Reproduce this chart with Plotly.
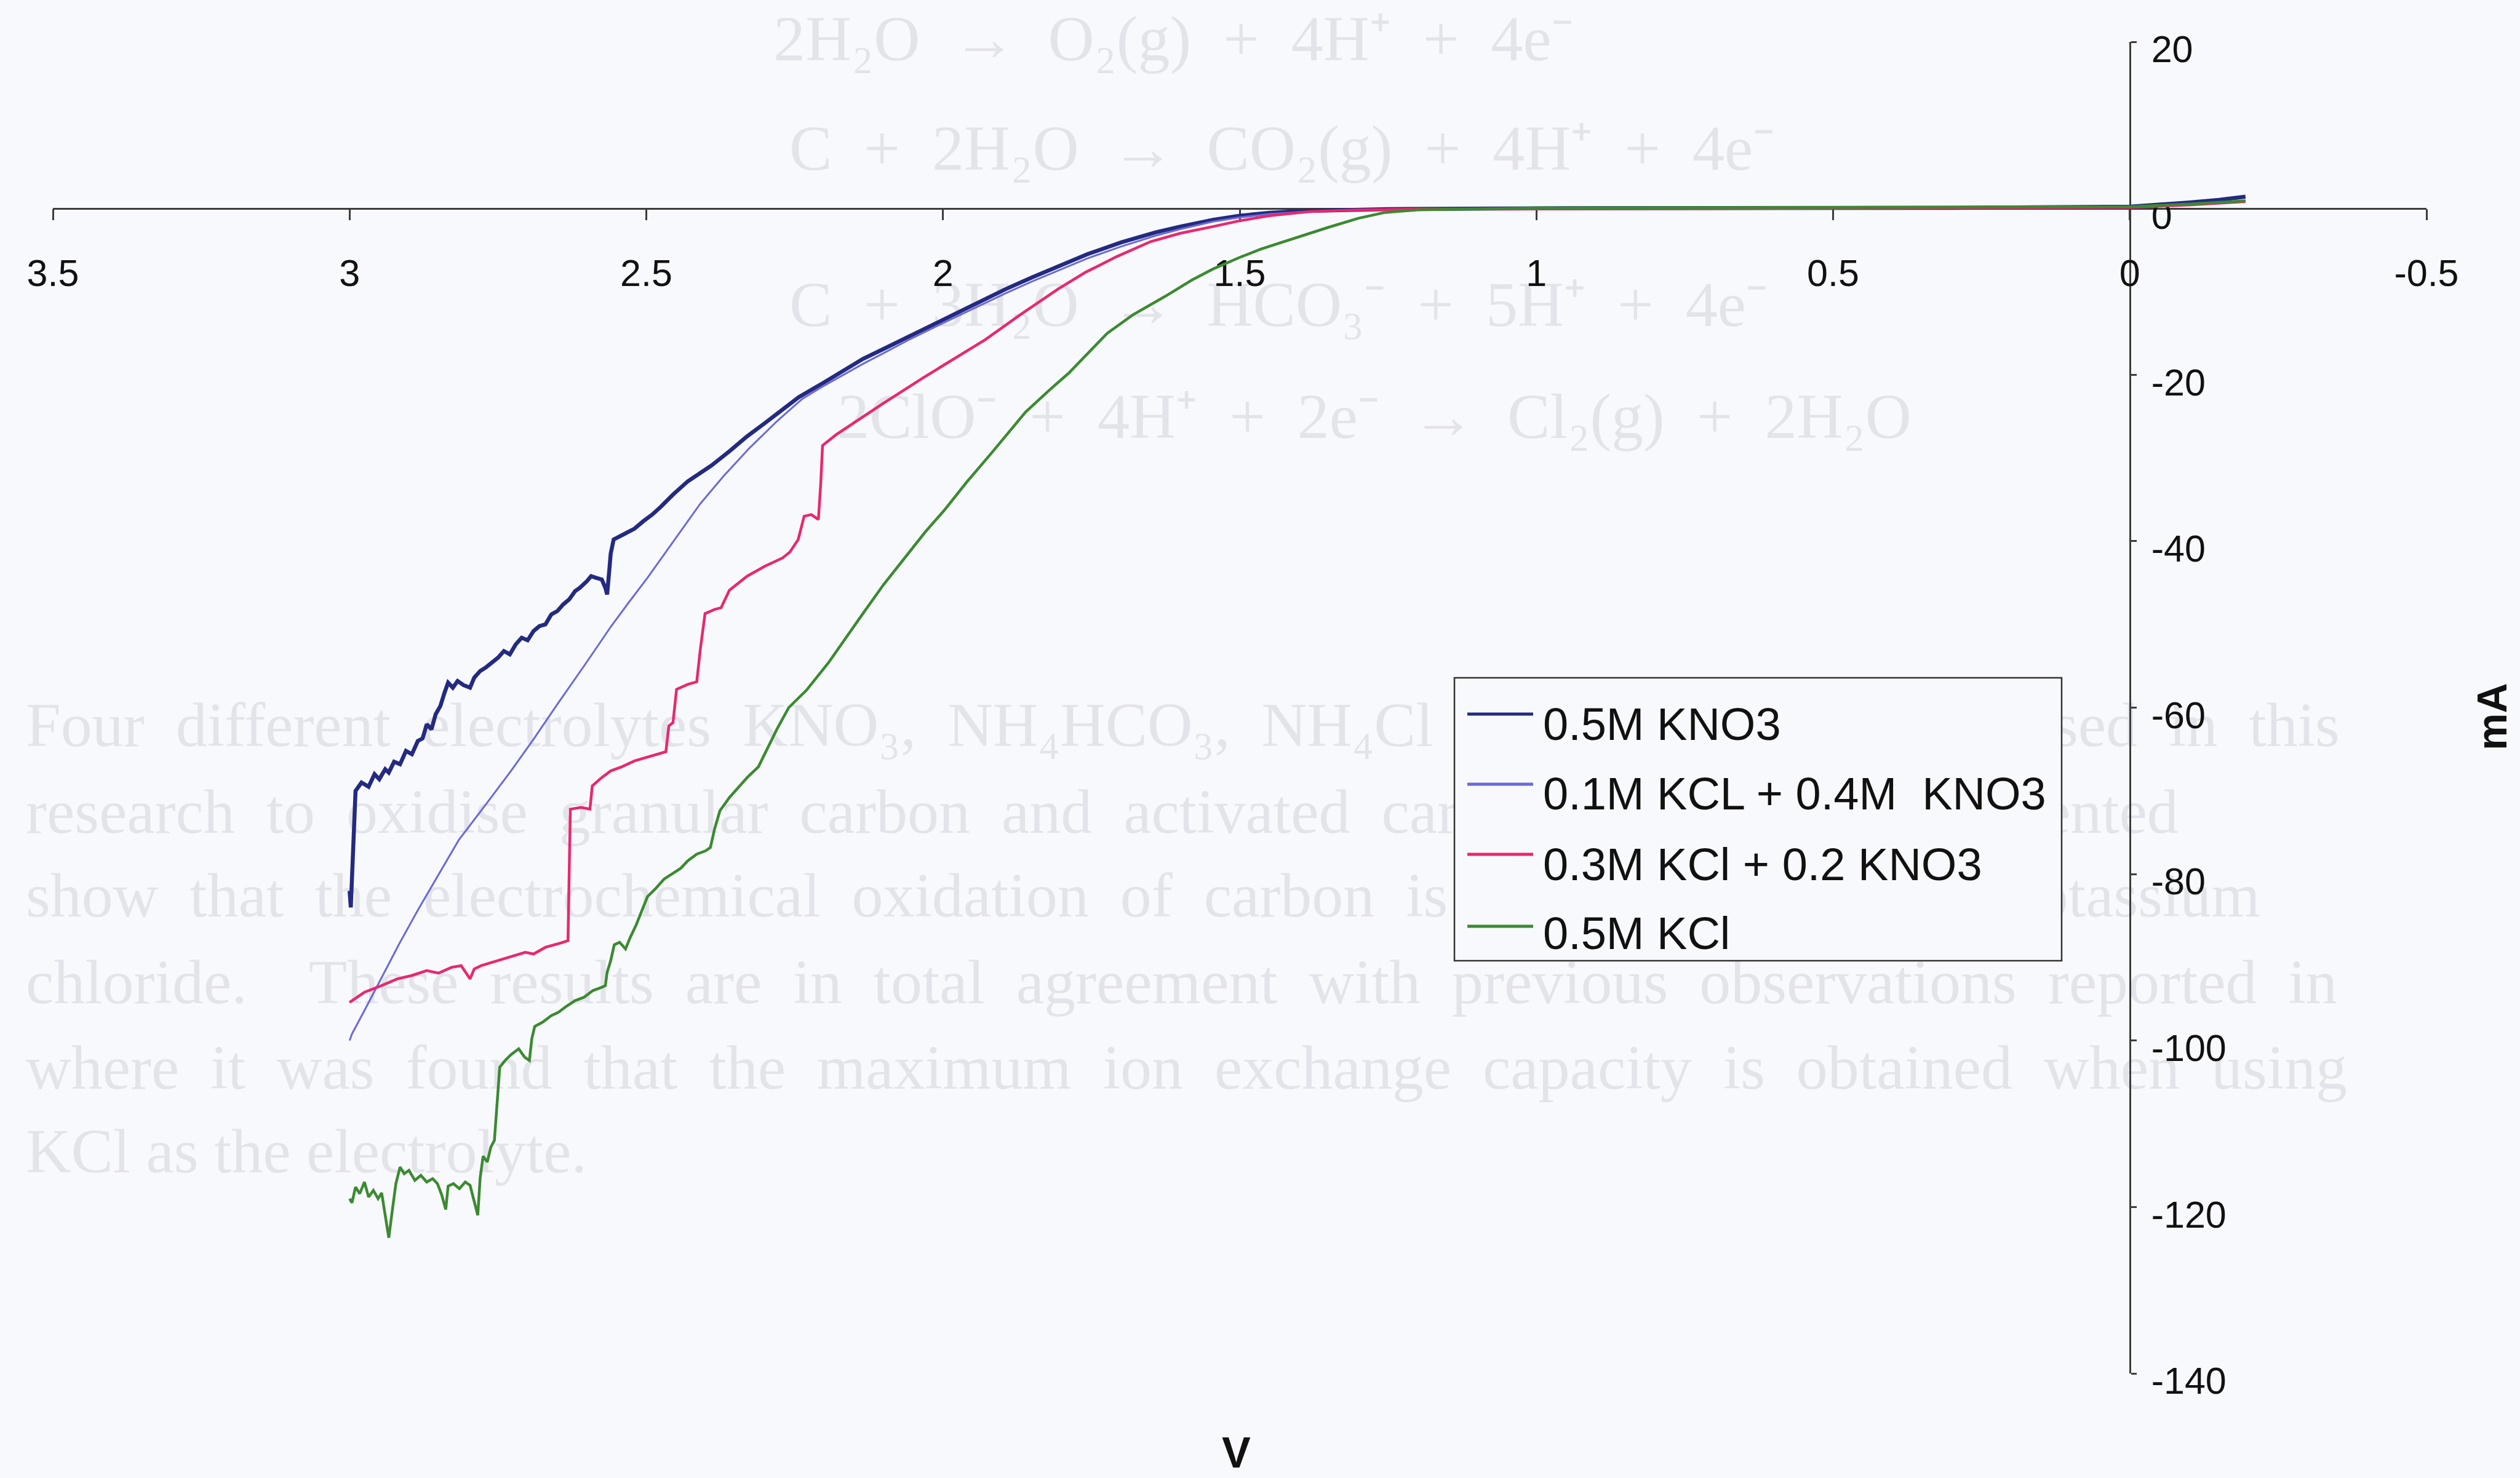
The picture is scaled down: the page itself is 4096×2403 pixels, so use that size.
import plotly.graph_objects as go

# ---------------- data ----------------
x_range = [3.5, -0.5]
y_range = [-140, 20]
x_tick_vals = [3.5, 3, 2.5, 2, 1.5, 1, 0.5, 0, -0.5]
x_tick_text = ["3.5", "3", "2.5", "2", "1.5", "1", "0.5", "0", "-0.5"]
y_tick_vals = [20, 0, -20, -40, -60, -80, -100, -120, -140]
y_tick_text = ["20", "0", "-20", "-40", "-60", "-80", "-100", "-120", "-140"]

series_names = ["0.5M KNO3", "0.1M KCL + 0.4M  KNO3", "0.3M KCl + 0.2 KNO3", "0.5M KCl"]
series_colors = ["#232a80", "#6a6ad8", "#e8286f", "#3b8a31"]

kno3_x = [3.000, 2.998, 2.996, 2.994, 2.992, 2.990, 2.980, 2.968, 2.958, 2.950, 2.940, 2.934,
          2.925, 2.915, 2.905, 2.895, 2.885, 2.877, 2.870, 2.862, 2.855, 2.847, 2.840, 2.834,
          2.826, 2.818, 2.808, 2.797, 2.790, 2.780, 2.771, 2.760, 2.750, 2.740, 2.730, 2.720,
          2.710, 2.700, 2.690, 2.680, 2.670, 2.660, 2.650, 2.640, 2.630, 2.620, 2.612, 2.600,
          2.593, 2.585, 2.575, 2.569, 2.566, 2.563, 2.560, 2.555, 2.545, 2.535, 2.520, 2.505,
          2.490, 2.476, 2.455, 2.430, 2.410, 2.390, 2.360, 2.330, 2.300, 2.270, 2.243, 2.200,
          2.170, 2.135, 2.100, 2.060, 2.032, 2.000, 1.950, 1.894, 1.850, 1.800, 1.756, 1.700,
          1.642, 1.600, 1.545, 1.500, 1.450, 1.400, 1.330, 1.250, 1.000, 0.600, 0.300, 0.000,
          -0.050, -0.100, -0.150, -0.195]
kno3_y = [-82.0, -84.0, -80.5, -77.0, -73.0, -70.0, -69.0, -69.5, -68.0, -68.6, -67.4, -67.8,
          -66.5, -66.8, -65.2, -65.6, -64.0, -63.7, -62.0, -62.6, -60.8, -59.8, -58.2, -57.0,
          -57.6, -56.8, -57.3, -57.6, -56.4, -55.6, -55.2, -54.6, -54.0, -53.2, -53.6, -52.4,
          -51.6, -51.9, -50.8, -50.2, -50.0, -48.8, -48.4, -47.6, -47.0, -46.0, -45.6, -44.8,
          -44.2, -44.4, -44.6, -45.6, -46.4, -44.0, -41.5, -39.8, -39.4, -39.0, -38.5, -37.6,
          -36.8, -35.9, -34.4, -32.8, -31.8, -30.9, -29.2, -27.4, -25.8, -24.2, -22.7, -20.9,
          -19.6, -18.1, -16.9, -15.5, -14.5, -13.3, -11.6, -9.7, -8.3, -6.8, -5.5, -4.1,
          -2.9, -2.2, -1.4, -0.9, -0.55, -0.35, -0.2, -0.1, 0.0, 0.0, 0.05, 0.2,
          0.4, 0.7, 1.0, 1.4]

mix14_x = [3.000, 2.996, 2.975, 2.946, 2.915, 2.884, 2.850, 2.816, 2.770, 2.728, 2.690, 2.650,
           2.604, 2.560, 2.530, 2.498, 2.450, 2.409, 2.370, 2.326, 2.280, 2.237, 2.200, 2.170,
           2.135, 2.100, 2.060, 2.000, 1.950, 1.894, 1.850, 1.800, 1.756, 1.700, 1.642, 1.600,
           1.545, 1.500, 1.450, 1.400, 1.330, 1.250, 1.000, 0.600, 0.300, 0.000, -0.100, -0.195]
mix14_y = [-100.0, -99.2, -96.4, -92.4, -88.2, -84.2, -80.0, -75.9, -71.6, -67.6, -63.8, -59.6,
           -54.9, -50.3, -47.4, -44.4, -39.6, -35.5, -32.2, -28.8, -25.6, -22.9, -21.3, -20.1,
           -18.7, -17.4, -15.9, -13.8, -12.1, -10.2, -8.8, -7.3, -6.0, -4.6, -3.3, -2.5,
           -1.6, -1.1, -0.7, -0.45, -0.25, -0.15, -0.1, -0.05, 0.0, 0.1, 0.4, 0.9]

mix32_x = [3.000, 2.996, 2.975, 2.946, 2.920, 2.896, 2.870, 2.850, 2.828, 2.812, 2.800, 2.797,
           2.790, 2.778, 2.760, 2.740, 2.720, 2.704, 2.690, 2.670, 2.650, 2.632, 2.630, 2.628,
           2.610, 2.595, 2.591, 2.575, 2.560, 2.541, 2.520, 2.500, 2.480, 2.467, 2.462, 2.455,
           2.449, 2.430, 2.415, 2.409, 2.401, 2.385, 2.374, 2.360, 2.330, 2.300, 2.270, 2.258,
           2.244, 2.234, 2.222, 2.210, 2.206, 2.203, 2.180, 2.149, 2.100, 2.032, 1.980, 1.929,
           1.870, 1.806, 1.760, 1.707, 1.650, 1.600, 1.545, 1.500, 1.450, 1.383, 1.300, 1.200,
           0.800, 0.400, 0.000, -0.100, -0.195]
mix32_y = [-95.4, -95.2, -94.2, -93.4, -92.6, -92.2, -91.6, -91.9, -91.2, -91.0, -92.4, -92.6,
           -91.4, -91.0, -90.6, -90.2, -89.8, -89.4, -89.6, -88.8, -88.4, -88.0, -80.0, -72.2,
           -72.0, -72.2, -69.4, -68.4, -67.6, -67.1, -66.4, -66.0, -65.6, -65.3, -62.2, -61.8,
           -57.8, -57.2, -56.9, -53.0, -48.7, -48.2, -48.0, -45.9, -44.2, -43.0, -42.0, -41.3,
           -39.8, -37.0, -36.8, -37.4, -33.0, -28.5, -27.2, -25.7, -23.4, -20.3, -18.0, -15.8,
           -12.8, -9.7, -7.7, -5.8, -4.0, -3.0, -2.2, -1.5, -0.9, -0.4, -0.2, -0.1,
           -0.05, 0.0, 0.1, 0.4, 0.8]

kcl_x = [3.000, 2.996, 2.990, 2.983, 2.975, 2.968, 2.960, 2.952, 2.946, 2.940, 2.934, 2.928,
         2.922, 2.915, 2.908, 2.900, 2.890, 2.880, 2.870, 2.860, 2.852, 2.845, 2.838, 2.834,
         2.825, 2.815, 2.805, 2.797, 2.790, 2.784, 2.780, 2.775, 2.768, 2.762, 2.756, 2.752,
         2.749, 2.747, 2.738, 2.728, 2.715, 2.705, 2.697, 2.693, 2.688, 2.675, 2.660, 2.648,
         2.635, 2.620, 2.605, 2.590, 2.575, 2.569, 2.566, 2.560, 2.554, 2.545, 2.535, 2.527,
         2.517, 2.508, 2.498, 2.485, 2.470, 2.455, 2.442, 2.430, 2.415, 2.400, 2.392, 2.385,
         2.376, 2.360, 2.345, 2.330, 2.311, 2.299, 2.280, 2.260, 2.230, 2.193, 2.160, 2.135,
         2.100, 2.060, 2.030, 1.998, 1.960, 1.917, 1.861, 1.820, 1.788, 1.723, 1.680, 1.626,
         1.580, 1.545, 1.500, 1.464, 1.400, 1.351, 1.300, 1.255, 1.200, 1.100, 1.000, 0.500,
         0.000, -0.100, -0.195]
kcl_y = [-119.0, -119.5, -117.6, -118.4, -117.0, -118.8, -118.0, -119.0, -118.3, -121.0, -123.7, -120.4,
         -117.2, -115.2, -116.0, -115.6, -116.8, -116.2, -117.0, -116.6, -117.2, -118.5, -120.3, -117.5,
         -117.2, -117.8, -117.0, -117.4, -119.5, -121.0, -116.5, -113.9, -114.6, -112.8, -112.0, -108.0,
         -104.5, -103.2, -102.4, -101.7, -101.0, -102.0, -102.4, -99.8, -98.3, -97.8, -97.0, -96.6,
         -95.9, -95.2, -94.8, -94.0, -93.6, -93.4, -91.8, -90.4, -88.5, -88.2, -89.0, -87.6,
         -86.1, -84.4, -82.7, -81.8, -80.6, -79.9, -79.3, -78.4, -77.6, -77.2, -76.8, -74.6,
         -72.4, -70.8, -69.6, -68.4, -67.1, -65.3, -62.6, -60.0, -57.9, -54.6, -51.2, -48.7,
         -45.2, -41.6, -38.9, -36.3, -32.9, -29.3, -24.5, -21.8, -19.8, -15.0, -12.8, -10.6,
         -8.6, -7.3, -5.9, -4.9, -3.4, -2.3, -1.2, -0.5, -0.2, -0.05, 0.05, 0.1,
         0.2, 0.5, 0.9]

series_x = [kno3_x, mix14_x, mix32_x, kcl_x]
series_y = [kno3_y, mix14_y, mix32_y, kcl_y]
series_widths = [6.5, 3.0, 4.5, 4.5]

# faint show-through text of the scanned page
ghost_lines = [
    "2H\u2082O  \u2192  O\u2082(g)  +  4H\u207a  +  4e\u207b",
    "C  +  2H\u2082O  \u2192  CO\u2082(g)  +  4H\u207a  +  4e\u207b",
    "C  +  3H\u2082O  \u2192  HCO\u2083\u207b  +  5H\u207a  +  4e\u207b",
    "2ClO\u207b  +  4H\u207a  +  2e\u207b  \u2192  Cl\u2082(g)  +  2H\u2082O",
    "Four  different  electrolytes  KNO\u2083,  NH\u2084HCO\u2083,  NH\u2084Cl  and  KCl  have  been  used  in  this",
    "research  to  oxidise  granular  carbon  and  activated  carbon.   The  results  presented",
    "show  that  the  electrochemical  oxidation  of  carbon  is  higher  when  using  potassium",
    "chloride.    These  results  are  in  total  agreement  with  previous  observations  reported  in",
    "where  it  was  found  that  the  maximum  ion  exchange  capacity  is  obtained  when  using",
    "KCl as the electrolyte.",
]
ghost_sizes = [104, 104, 104, 104, 102, 102, 102, 102, 102, 102]

# ---------------- layout geometry ----------------
W, H = 4096, 2403
L, R, T, B = 86, 152, 68, 170
PW, PH = W - L - R, H - T - B


def px(xp):
    return (xp - L) / PW


def py(yp):
    return (H - B - yp) / PH


x_axis_pos = (0 - y_range[0]) / (y_range[1] - y_range[0])
y_axis_pos = (x_range[0] - 0) / (x_range[0] - x_range[1])

axis_color = "#3c3c3c"
font_main = "Liberation Sans, Arial, sans-serif"

fig = go.Figure()
for name, xs, ys, col, lw in zip(series_names, series_x, series_y, series_colors, series_widths):
    fig.add_trace(go.Scatter(x=xs, y=ys, mode="lines", name=name,
                             line=dict(color=col, width=lw), showlegend=False))

shapes = []
annotations = []

# ghost text (under everything)
ghost_pos = [(1254, 52), (1280, 230), (1280, 483), (1358, 666),
             (39, 1167), (39, 1308), (39, 1444), (39, 1585), (39, 1724), (39, 1860)]
for txt, (gx, gy), gs in zip(ghost_lines, ghost_pos, ghost_sizes):
    shapes.append(dict(type="rect", xref="paper", yref="paper", layer="below",
                       x0=px(gx), x1=px(gx + 4600), y0=py(gy + 55), y1=py(gy - 55),
                       line=dict(width=0), fillcolor="rgba(0,0,0,0)",
                       label=dict(text=txt, textposition="middle left", padding=0,
                                  font=dict(family="Liberation Serif, Times New Roman, serif",
                                            size=gs, color="#e3e3ea"))))

# manual legend
leg_x0, leg_x1, leg_y0, leg_y1 = 2364, 3351, 1102, 1562
shapes.append(dict(type="rect", xref="paper", yref="paper",
                   x0=px(leg_x0), x1=px(leg_x1), y0=py(leg_y1), y1=py(leg_y0),
                   line=dict(color="#333333", width=2.5), fillcolor="#f8f9fc"))
leg_line_y = [1161, 1275, 1389, 1506]
leg_text_y = [1177, 1290, 1406, 1517]
for name, col, ly, ty in zip(series_names, series_colors, leg_line_y, leg_text_y):
    shapes.append(dict(type="line", xref="paper", yref="paper",
                       x0=px(2385), x1=px(2492), y0=py(ly), y1=py(ly),
                       line=dict(color=col, width=5)))
    annotations.append(dict(xref="paper", yref="paper", x=px(2506), y=py(ty),
                            xanchor="left", yanchor="middle", showarrow=False,
                            text=name, font=dict(family=font_main, size=74, color="#111111")))

# axis titles
annotations.append(dict(xref="paper", yref="paper", x=px(2009), y=py(2362),
                        xanchor="center", yanchor="middle", showarrow=False,
                        text="<b>V</b>", font=dict(family=font_main, size=70, color="#111111")))
annotations.append(dict(xref="paper", yref="paper", x=px(4050), y=py(1165),
                        xanchor="center", yanchor="middle", showarrow=False, textangle=-90,
                        text="<b>mA</b>", font=dict(family=font_main, size=68, color="#111111")))

fig.update_layout(
    width=W, height=H,
    margin=dict(l=L, r=R, t=T, b=B, pad=0),
    paper_bgcolor="#f8f9fc",
    plot_bgcolor="rgba(0,0,0,0)",
    showlegend=False,
    shapes=shapes,
    annotations=annotations,
    xaxis=dict(range=x_range, anchor="free", position=x_axis_pos, side="bottom",
               showline=True, linecolor=axis_color, linewidth=2.5,
               ticks="outside", ticklen=18, tickwidth=2.5, tickcolor=axis_color,
               tickvals=x_tick_vals, ticktext=x_tick_text, ticklabelstandoff=33,
               tickfont=dict(family=font_main, size=61, color="#111111"),
               showgrid=False, zeroline=False, layer="below traces"),
    yaxis=dict(range=y_range, anchor="free", position=y_axis_pos, side="right",
               showline=True, linecolor=axis_color, linewidth=2.5,
               ticks="outside", ticklen=9, tickwidth=2.5, tickcolor=axis_color,
               tickvals=y_tick_vals, ticktext=y_tick_text, ticklabelstandoff=12,
               ticklabelshift=12,
               tickfont=dict(family=font_main, size=61, color="#111111"),
               showgrid=False, zeroline=False, layer="below traces"),
)

fig.write_html("out.html")
